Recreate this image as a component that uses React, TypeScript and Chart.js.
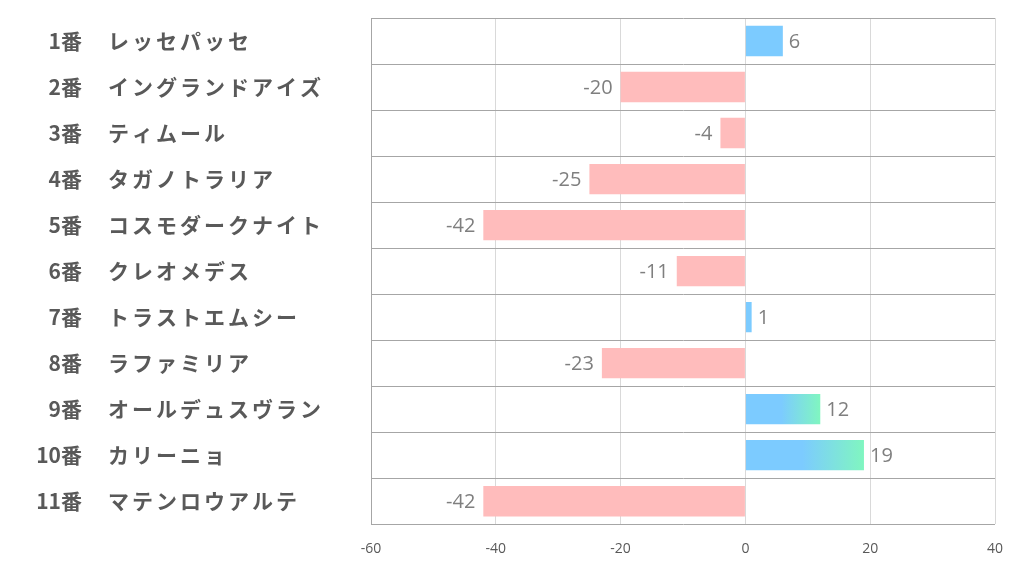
import React, { useEffect, useRef } from "react";
import { Chart, registerables } from "chart.js";

Chart.register(...registerables);

const numbers = ["1番", "2番", "3番", "4番", "5番", "6番", "7番", "8番", "9番", "10番", "11番"];
const names = [
  "レッセパッセ",
  "イングランドアイズ",
  "ティムール",
  "タガノトラリア",
  "コスモダークナイト",
  "クレオメデス",
  "トラストエムシー",
  "ラファミリア",
  "オールデュスヴラン",
  "カリーニョ",
  "マテンロウアルテ",
];
const values = [6, -20, -4, -25, -42, -11, 1, -23, 12, 19, -42];
const xMin = -60;
const xMax = 40;
const xStep = 20;

const BLUE = "rgb(124,203,255)";
const GREEN = "rgb(128,246,192)";
const PINK = "rgb(255,188,188)";

export default function App() {
  const ref = useRef<HTMLCanvasElement | null>(null);

  useEffect(() => {
    const canvas = ref.current;
    if (!canvas) return;

    const labelsPlugin = {
      id: "customLabels",
      afterDraw(chart: any) {
        const ctx = chart.ctx;
        const y = chart.scales.y;
        ctx.save();
        ctx.fillStyle = "#595959";
        ctx.textBaseline = "middle";
        ctx.font = "bold 21px 'Noto Sans CJK JP'";
        numbers.forEach((n, i) => {
          const py = y.getPixelForValue(i);
          ctx.textAlign = "right";
          (ctx as any).letterSpacing = "0px";
          ctx.fillText(n, 82, py);
          ctx.textAlign = "left";
          (ctx as any).letterSpacing = "3px";
          ctx.fillText(names[i], 108, py);
          (ctx as any).letterSpacing = "0px";
        });
        ctx.restore();
      },
      afterDatasetsDraw(chart: any) {
        const ctx = chart.ctx;
        const meta = chart.getDatasetMeta(0);
        ctx.save();
        ctx.fillStyle = "#7f7f7f";
        ctx.font = "20px 'Open Sans'";
        ctx.textBaseline = "middle";
        meta.data.forEach((el: any, i: number) => {
          const v = values[i];
          if (v >= 0) {
            ctx.textAlign = "left";
            ctx.fillText(String(v), el.x + 6, el.y + 1);
          } else {
            ctx.textAlign = "right";
            ctx.fillText(String(v), el.x - 8, el.y + 1);
          }
        });
        ctx.restore();
      },
    };

    const chart = new Chart(canvas, {
      type: "bar",
      data: {
        labels: names,
        datasets: [
          {
            data: values,
            backgroundColor: (c: any) => {
              const v = values[c.dataIndex];
              if (v < 0) return PINK;
              if (v >= 10 && c.chart.scales && c.chart.scales.x) {
                const xs = c.chart.scales.x;
                const x0 = xs.getPixelForValue(0);
                const x1 = xs.getPixelForValue(v);
                const g = c.chart.ctx.createLinearGradient(x0, 0, x1, 0);
                g.addColorStop(0, BLUE);
                g.addColorStop(0.48, BLUE);
                g.addColorStop(1, GREEN);
                return g;
              }
              return BLUE;
            },
            borderWidth: 0,
            barPercentage: 0.66,
            categoryPercentage: 1,
          },
        ],
      },
      options: {
        indexAxis: "y",
        responsive: false,
        animation: false,
        layout: { padding: { left: 371, right: 27, top: 18, bottom: 1 } },
        plugins: { legend: { display: false }, tooltip: { enabled: false } },
        scales: {
          x: {
            min: xMin,
            max: xMax,
            ticks: {
              stepSize: xStep,
              color: "#595959",
              font: { size: 14, family: "'Open Sans'" },
              padding: 16,
            },
            grid: { color: "#d9d9d9", drawTicks: false, lineWidth: 1 },
            border: { display: false },
          },
          y: {
            ticks: { display: false },
            grid: { color: "#a6a6a6", drawTicks: false, offset: true, lineWidth: 1 },
            border: { color: "#a6a6a6" },
            afterFit: (s: any) => {
              s.width = 0;
            },
          },
        },
      },
      plugins: [labelsPlugin],
    } as any);

    return () => chart.destroy();
  }, []);

  return (
    <div style={{ position: "absolute", left: 0, top: 0, width: 1022, height: 574, background: "#fff" }}>
      <canvas ref={ref} width={1022} height={574} style={{ display: "block" }} />
    </div>
  );
}
